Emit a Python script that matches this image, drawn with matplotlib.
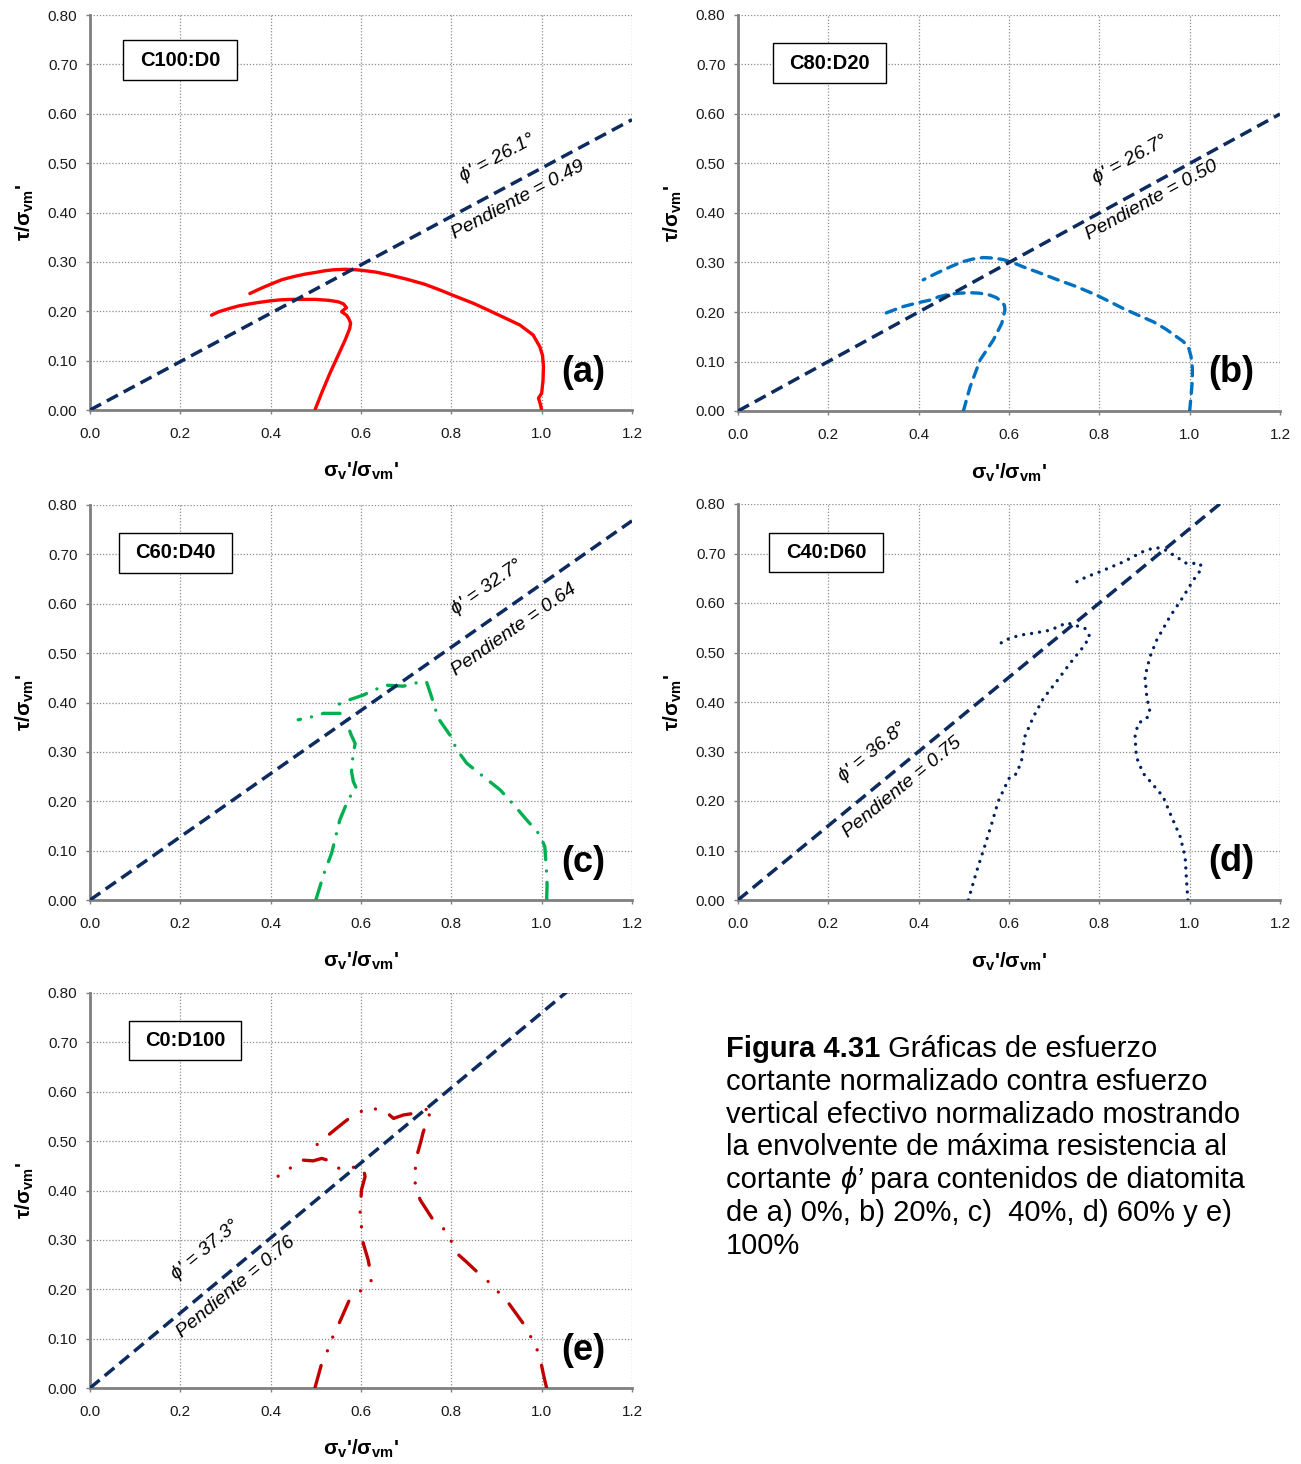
import numpy as np
import matplotlib
matplotlib.use("Agg")
import matplotlib.pyplot as plt
from matplotlib.patches import Rectangle

plt.rcParams['font.family'] = ['Liberation Sans', 'DejaVu Sans']
plt.rcParams['mathtext.fontset'] = 'custom'
plt.rcParams['mathtext.rm'] = 'Liberation Sans'
plt.rcParams['mathtext.bf'] = 'Liberation Sans:bold'
plt.rcParams['mathtext.it'] = 'Liberation Sans:italic'

# ---- data ----
# (a) C100:D0
a_x1 = [0.498, 0.514, 0.531, 0.549, 0.565, 0.575, 0.577, 0.573, 0.568, 0.557, 0.562, 0.568, 0.561, 0.550, 0.530,
        0.500, 0.470, 0.443, 0.420, 0.399, 0.375, 0.354, 0.330, 0.310, 0.285, 0.269]
a_y1 = [0.000, 0.037, 0.074, 0.110, 0.142, 0.165, 0.176, 0.185, 0.192, 0.199, 0.203, 0.207, 0.215, 0.219, 0.222,
        0.224, 0.224, 0.224, 0.223, 0.221, 0.218, 0.215, 0.211, 0.206, 0.199, 0.192]
a_x2 = [1.000, 0.997, 0.993, 1.000, 1.003, 1.004, 1.002, 0.996, 0.981, 0.952, 0.915, 0.880, 0.849, 0.810, 0.775,
        0.740, 0.701, 0.665, 0.635, 0.610, 0.590, 0.565, 0.539, 0.520, 0.502, 0.475, 0.450, 0.425, 0.406, 0.380, 0.354]
a_y2 = [0.000, 0.012, 0.024, 0.034, 0.060, 0.088, 0.110, 0.128, 0.152, 0.172, 0.188, 0.203, 0.216, 0.230, 0.243,
        0.255, 0.265, 0.273, 0.279, 0.282, 0.284, 0.285, 0.284, 0.282, 0.279, 0.275, 0.270, 0.264, 0.257, 0.247, 0.236]

# (b) C80:D20
b_x1 = [0.499, 0.514, 0.536, 0.565, 0.584, 0.591, 0.590, 0.584, 0.572, 0.558, 0.535, 0.514, 0.490, 0.469, 0.445,
        0.425, 0.395, 0.366, 0.345, 0.322]
b_y1 = [0.000, 0.049, 0.103, 0.143, 0.177, 0.204, 0.213, 0.221, 0.229, 0.234, 0.238, 0.239, 0.238, 0.236, 0.231,
        0.224, 0.218, 0.211, 0.204, 0.196]
b_x2 = [1.000, 1.003, 1.006, 1.006, 1.003, 0.997, 0.985, 0.971, 0.948, 0.920, 0.885, 0.853, 0.825, 0.794, 0.750,
        0.705, 0.668, 0.632, 0.608, 0.587, 0.565, 0.543, 0.520, 0.499, 0.477, 0.455, 0.432, 0.410]
b_y2 = [0.000, 0.030, 0.063, 0.087, 0.110, 0.130, 0.141, 0.150, 0.165, 0.180, 0.194, 0.207, 0.220, 0.234, 0.251,
        0.266, 0.279, 0.291, 0.300, 0.306, 0.309, 0.310, 0.307, 0.302, 0.294, 0.285, 0.275, 0.265]

# (c) C60:D40
c_x1 = [0.500, 0.517, 0.535, 0.553, 0.572, 0.580, 0.590, 0.583, 0.579, 0.582, 0.587, 0.578, 0.572, 0.570, 0.566,
        0.553, 0.517, 0.487, 0.461]
c_y1 = [0.000, 0.051, 0.095, 0.162, 0.204, 0.215, 0.226, 0.240, 0.260, 0.290, 0.317, 0.335, 0.350, 0.365, 0.375,
        0.378, 0.378, 0.370, 0.365]
c_x2 = [1.011, 1.012, 1.011, 1.007, 0.996, 0.967, 0.938, 0.908, 0.871, 0.834, 0.812, 0.797, 0.771, 0.756, 0.745,
        0.716, 0.694, 0.657, 0.628, 0.605, 0.576, 0.539]
c_y2 = [0.000, 0.030, 0.054, 0.108, 0.132, 0.162, 0.193, 0.223, 0.250, 0.277, 0.305, 0.334, 0.368, 0.412, 0.442,
        0.439, 0.433, 0.435, 0.425, 0.415, 0.406, 0.392]

# (d) C40:D60
d_x1 = [0.510, 0.528, 0.547, 0.562, 0.576, 0.595, 0.602, 0.617, 0.628, 0.635, 0.654, 0.676, 0.705, 0.735, 0.765,
        0.779, 0.768, 0.742, 0.728, 0.691, 0.654, 0.624, 0.591, 0.576]
d_y1 = [0.000, 0.057, 0.111, 0.155, 0.199, 0.236, 0.249, 0.255, 0.283, 0.330, 0.370, 0.407, 0.441, 0.478, 0.512,
        0.532, 0.549, 0.556, 0.560, 0.545, 0.539, 0.535, 0.525, 0.515]
d_x2 = [0.996, 0.993, 0.990, 0.979, 0.960, 0.941, 0.916, 0.897, 0.882, 0.879, 0.886, 0.905, 0.912, 0.905, 0.901,
        0.912, 0.927, 0.956, 0.986, 1.008, 1.027, 1.023, 0.993, 0.964, 0.941, 0.923, 0.897, 0.853, 0.801, 0.772, 0.746]
d_y2 = [0.000, 0.040, 0.087, 0.128, 0.168, 0.209, 0.236, 0.256, 0.289, 0.330, 0.357, 0.367, 0.380, 0.411, 0.451,
        0.491, 0.525, 0.572, 0.613, 0.646, 0.670, 0.680, 0.680, 0.697, 0.710, 0.712, 0.704, 0.683, 0.663, 0.653, 0.641]

# (e) C0:D100
e_x1 = [0.498, 0.513, 0.528, 0.539, 0.553, 0.576, 0.601, 0.624, 0.616, 0.605, 0.601, 0.598, 0.601, 0.609, 0.605,
        0.576, 0.546, 0.531, 0.513, 0.494, 0.465, 0.443, 0.421, 0.391]
e_y1 = [0.000, 0.050, 0.080, 0.107, 0.134, 0.182, 0.198, 0.219, 0.259, 0.293, 0.327, 0.354, 0.401, 0.428, 0.447,
        0.447, 0.445, 0.460, 0.465, 0.460, 0.462, 0.445, 0.431, 0.418]
e_x2 = [1.011, 1.004, 0.998, 0.989, 0.974, 0.959, 0.940, 0.922, 0.900, 0.878, 0.856, 0.834, 0.812, 0.800, 0.786,
        0.760, 0.731, 0.720, 0.720, 0.723, 0.731, 0.738, 0.749, 0.756, 0.740, 0.723, 0.694, 0.672, 0.649, 0.616,
        0.587, 0.565, 0.542, 0.517, 0.491]
e_y2 = [0.000, 0.027, 0.054, 0.080, 0.107, 0.131, 0.155, 0.178, 0.198, 0.219, 0.236, 0.255, 0.273, 0.297, 0.320,
        0.340, 0.381, 0.411, 0.441, 0.468, 0.494, 0.519, 0.546, 0.570, 0.562, 0.557, 0.553, 0.546, 0.564, 0.566,
        0.555, 0.540, 0.523, 0.504, 0.484]

mixes = ['C100:D0', 'C80:D20', 'C60:D40', 'C40:D60', 'C0:D100']
letters = ['(a)', '(b)', '(c)', '(d)', '(e)']
slopes = [0.49, 0.50, 0.64, 0.75, 0.76]
phis = ['26.1', '26.7', '32.7', '36.8', '37.3']

x_ticks = [0.0, 0.2, 0.4, 0.6, 0.8, 1.0, 1.2]
y_ticks = [0.0, 0.1, 0.2, 0.3, 0.4, 0.5, 0.6, 0.7, 0.8]

curves = [(a_x1, a_y1, a_x2, a_y2), (b_x1, b_y1, b_x2, b_y2), (c_x1, c_y1, c_x2, c_y2),
          (d_x1, d_y1, d_x2, d_y2), (e_x1, e_y1, e_x2, e_y2)]

# ---- styling ----
W, H = 1301, 1464
fig = plt.figure(figsize=(W / 100, H / 100), dpi=100)

# axes boxes in pixels: left, top, right, bottom
boxes = [(90, 15, 632, 410), (738, 15, 1280, 411), (90, 505, 632, 900),
         (738, 504, 1280, 900), (90, 993, 632, 1388)]
colors = ['#FF0000', '#0070C0', '#00B050', '#002060', '#C00000']
lw = 2.4
styles = [dict(linestyle='-'),
          dict(dashes=(3.0, 2.3), dash_capstyle='round'),
          dict(dashes=(5.3, 3.4, 0.01, 3.4), dash_capstyle='round'),
          dict(dashes=(0.01, 2.4), dash_capstyle='round'),
          dict(dashes=(7.0, 4.8, 0.01, 4.4, 0.01, 4.8), dash_capstyle='round')]
env_color = '#0D2B5E'
# mix-label boxes (axes fraction: x0, y0, x1, y1)
label_boxes = [(0.061, 0.835, 0.271, 0.937), (0.065, 0.828, 0.273, 0.929), (0.054, 0.828, 0.262, 0.929),
               (0.057, 0.828, 0.268, 0.927), (0.072, 0.830, 0.279, 0.929)]
letter_pos = [(0.91, 0.094), (0.91, 0.096), (0.91, 0.096), (0.91, 0.096), (0.91, 0.094)]
phi_pos = [(0.901, 0.510), (0.868, 0.507), (0.879, 0.634), (0.297, 0.299), (0.255, 0.280)]
pend_pos = [(0.948, 0.425), (0.917, 0.426), (0.939, 0.547), (0.363, 0.228), (0.323, 0.205)]

for i in range(5):
    l, t, r, b = boxes[i]
    ax = fig.add_axes([l / W, (H - b) / H, (r - l) / W, (b - t) / H])
    x1, y1, x2, y2 = curves[i]
    ax.plot(x1, y1, color=colors[i], lw=lw, zorder=3, solid_capstyle='round', **styles[i])
    ax.plot(x2, y2, color=colors[i], lw=lw, zorder=3, solid_capstyle='round', **styles[i])

    xs = np.array([0.0, 1.2])
    ax.plot(xs, slopes[i] * xs, color=env_color, lw=2.5, dashes=(3.6, 1.9), zorder=4)

    ax.set_xlim(0, 1.2)
    ax.set_ylim(0, 0.8)
    ax.set_xticks(x_ticks)
    ax.set_yticks(y_ticks)
    ax.set_xticklabels(['%.1f' % v for v in x_ticks])
    ax.set_yticklabels(['%.2f' % v for v in y_ticks])
    ax.tick_params(axis='both', labelsize=11, length=3, width=1, color='#808080', pad=6, labelcolor='#1a1a1a')
    ax.tick_params(axis='x', pad=9)
    ax.grid(True, color='#8c8c8c', linestyle=(0, (1, 1.5)), linewidth=0.9, zorder=0)
    ax.set_axisbelow(True)
    for s in ['top', 'right']:
        ax.spines[s].set_visible(False)
    for s in ['left', 'bottom']:
        ax.spines[s].set_color('#808080')
        ax.spines[s].set_linewidth(2)

    ax.set_xlabel("σ$_{\\mathbf{v}}$'/σ$_{\\mathbf{vm}}$'", fontsize=15, fontweight='bold', va='center')
    ax.xaxis.set_label_coords(0.5, -0.155)
    ax.set_ylabel("τ/σ$_{\\mathbf{vm}}$'", fontsize=15, fontweight='bold', va='center')
    ax.yaxis.set_label_coords(-0.12, 0.5)

    bx0, by0, bx1, by1 = label_boxes[i]
    ax.add_patch(Rectangle((bx0, by0), bx1 - bx0, by1 - by0, transform=ax.transAxes,
                           facecolor='white', edgecolor='black', lw=1, zorder=6, clip_on=False))
    ax.text((bx0 + bx1) / 2, (by0 + by1) / 2, mixes[i], transform=ax.transAxes, ha='center', va='center',
            fontsize=14.5, fontweight='bold', zorder=7)

    ax.text(letter_pos[i][0], letter_pos[i][1], letters[i], transform=ax.transAxes, ha='center', va='center',
            fontsize=26, fontweight='bold', zorder=7)

    ang = np.degrees(np.arctan(slopes[i]))
    ax.text(phi_pos[i][0], phi_pos[i][1], "ϕ' = %s°" % phis[i], ha='center', va='center', fontsize=14,
            style='italic', rotation=ang, transform_rotates_text=True, rotation_mode='anchor', zorder=5)
    ax.text(pend_pos[i][0], pend_pos[i][1], "Pendiente = %.2f" % slopes[i], ha='center', va='center',
            fontsize=14, style='italic', rotation=ang, transform_rotates_text=True, rotation_mode='anchor',
            zorder=5)

# ---- caption ----
renderer = fig.canvas.get_renderer()
cap_fs = 21
cap_x = 726 / W
baselines = [1057 + k * 32.8 for k in range(7)]
cap_lines = [
    [("Figura 4.31", dict(fontweight='bold')), (" Gráficas de esfuerzo", {})],
    [("cortante normalizado contra esfuerzo", {})],
    [("vertical efectivo normalizado mostrando", {})],
    [("la envolvente de máxima resistencia al", {})],
    [("cortante ", {}), ("ϕ’", dict(style='italic')), (" para contenidos de diatomita", {})],
    [("de a) 0%, b) 20%, c)  40%, d) 60% y e)", {})],
    [("100%", {})],
]
for k, segs in enumerate(cap_lines):
    x = cap_x
    y = (H - baselines[k]) / H
    for txt, kw in segs:
        t = fig.text(x, y, txt, fontsize=cap_fs, ha='left', va='baseline', **kw)
        ext = t.get_window_extent(renderer=renderer)
        x = x + ext.width / W

fig.savefig('out.png', dpi=100)
